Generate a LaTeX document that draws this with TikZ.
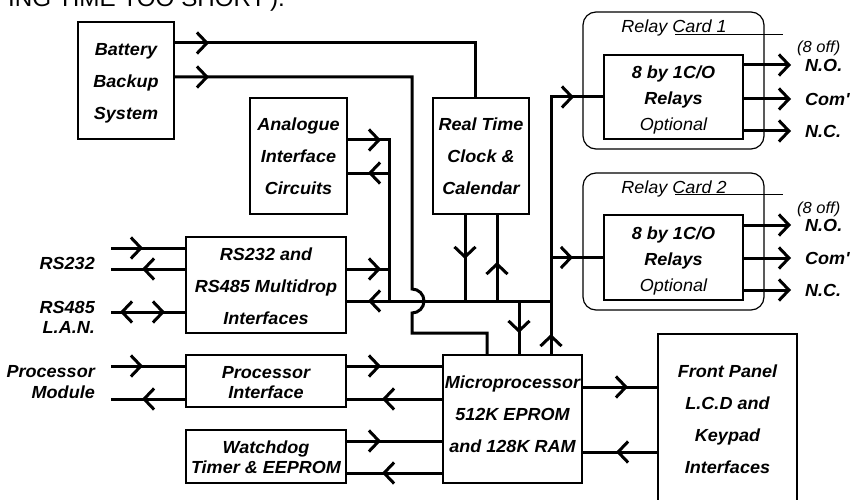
\documentclass[tikz,border=0pt]{standalone}
\usepackage{fontspec}
\setmainfont{Liberation Sans}[FakeStretch=1.03]
\usetikzlibrary{arrows.meta,decorations.markings}

\tikzset{
  >={Straight Barb[length=10pt,width=21pt]},
  % text height counts every line above the last baseline
  blk/.style={draw, line width=2pt, inner sep=0pt, align=center,
    text height=76.5pt, text depth=0pt,
    font=\bfseries\itshape\fontsize{17.5}{32}\selectfont},
  blktight/.style={blk, text height=32.5pt,
    font=\bfseries\itshape\fontsize{17.5}{20}\selectfont},
  blkrelay/.style={blk, text height=67pt,
    font=\bfseries\itshape\fontsize{17.5}{26}\selectfont},
  card/.style={draw, line width=1.2pt, rounded corners=13pt, inner sep=0pt},
  wire/.style={line width=3pt},
  fwd/.style={postaction={decorate,decoration={markings,
    mark=at position #1 with {\arrow{>}}}}},
  bwd/.style={postaction={decorate,decoration={markings,
    mark=at position #1 with {\arrowreversed{>}}}}},
  sidelbl/.style={inner sep=0pt, anchor=east, align=right,
    font=\bfseries\itshape\fontsize{17.5}{20.5}\selectfont},
  outlbl/.style={inner sep=0pt, anchor=west,
    font=\bfseries\itshape\fontsize{17.5}{18}\selectfont},
  notelbl/.style={inner sep=0pt, font=\itshape\fontsize{17.5}{18}\selectfont},
  smallnote/.style={inner sep=0pt, font=\itshape\fontsize{16}{18}\selectfont},
  uline/.style={line width=0.9pt},
}

\begin{document}
\begin{tikzpicture}[x=1pt,y=-1pt]
\useasboundingbox (0,0) rectangle (851,500);

% tail of the caption line above
\node[anchor=base east, inner sep=0pt, font=\fontsize{23.5}{26}\selectfont]
  (cap) at (285,7) {ING TIME TOO SHORT\textquotesingle).};

% ---- blocks ----
\node[blk, minimum width=96, minimum height=117] (bat) at (126,81)
  {Battery\\Backup\\System};
\node[blk, minimum width=97, minimum height=116] (ana) at (298.5,156)
  {Analogue\\Interface\\Circuits};
\node[blk, minimum width=96, minimum height=116] (rtc) at (481,156)
  {Real Time\\Clock \&\\Calendar};
\node[blk, text height=78.5pt, minimum width=160, minimum height=96] (rs) at (266,285)
  {RS232 and\\RS485 Multidrop\\Interfaces};
\node[blktight, text height=34.5pt, minimum width=160, minimum height=52] (pi) at (266,381)
  {Processor\\Interface};
\node[blktight, text height=33.5pt, minimum width=160, minimum height=53] (wd) at (266,456.5)
  {Watchdog\\Timer \& EEPROM};
\node[blk, text height=67.5pt, minimum width=139, minimum height=128] (mic) at (512.5,419)
  {Microprocessor\\512K EPROM\\and 128K RAM};
\node[blk, text height=103.5pt, minimum width=139, minimum height=176] (fp) at (727.5,422)
  {Front Panel\\L.C.D and\\Keypad\\Interfaces};

% ---- relay cards ----
\node[card, minimum width=181, minimum height=137] (c1) at (673.5,80.5) {};
\node[card, minimum width=181, minimum height=137] (c2) at (673.5,241.5) {};
\node[blkrelay, minimum width=139, minimum height=84] (r1) at (673.5,97)
  {8 by 1C/O\\Relays\\{\mdseries Optional}};
\node[blkrelay, minimum width=139, minimum height=85] (r2) at (673.5,257.5)
  {8 by 1C/O\\Relays\\{\mdseries Optional}};
\node[notelbl] (t1) at (674,28) {Relay Card 1};
\node[notelbl] (t2) at (674,189) {Relay Card 2};
\draw[uline] (675,34) -- (783,34);
\draw[uline] (675,194) -- (783,194);

% relay outputs
\node[smallnote, anchor=west] (n1) at (797,48) {(8 off)};
\node[smallnote, anchor=west] (n2) at (797,209) {(8 off)};
\node[outlbl] (no1) at (805,65) {N.O.};
\node[outlbl] (co1) at (805,99) {Com\textquotesingle};
\node[outlbl] (nc1) at (805,131) {N.C.};
\node[outlbl] (no2) at (805,225) {N.O.};
\node[outlbl] (co2) at (805,258) {Com\textquotesingle};
\node[outlbl] (nc2) at (805,290) {N.C.};
\draw[wire,->] (r1.east |- no1) -- ([xshift=-14pt]no1.west);
\draw[wire,->] (r1.east |- co1) -- ([xshift=-14pt]co1.west);
\draw[wire,->] (r1.east |- nc1) -- ([xshift=-14pt]nc1.west);
\draw[wire,->] (r2.east |- no2) -- ([xshift=-14pt]no2.west);
\draw[wire,->] (r2.east |- co2) -- ([xshift=-14pt]co2.west);
\draw[wire,->] (r2.east |- nc2) -- ([xshift=-14pt]nc2.west);

% ---- external labels on the left ----
\node[sidelbl] (lrs232) at (95,263) {RS232};
\node[sidelbl] (lrs485) at (95,317.5) {RS485\\L.A.N.};
\node[sidelbl] (lproc) at (95,382) {Processor\\Module};

% ---- junction points ----
\coordinate (b1) at (475,43);
\coordinate (b2) at (412,77);
\coordinate (hop) at (412,301);
\coordinate (b3) at (412,333);
\coordinate (b4) at (487,333);
\coordinate (busL) at (389,301);
\coordinate (busR) at (551,301);
\coordinate (a1) at (389,140);
\coordinate (a2) at (389,173);
\coordinate (s1) at (389,269);
\coordinate (l1) at (111,248);
\coordinate (l2) at (111,269);
\coordinate (l3) at (111,312);
\coordinate (l4) at (111,366);
\coordinate (l5) at (111,399);
\coordinate (k1) at (465,301);
\coordinate (k2) at (497,301);
\coordinate (m1) at (519,301);
\coordinate (w1) at (346,441);
\coordinate (w2) at (346,473);
\coordinate (f1) at (600,387);
\coordinate (f2) at (600,452);

% ---- battery feeds ----
\draw[wire,fwd=34pt] (bat.east |- b1) -- (b1) -- (rtc.north -| b1);
\draw[wire,fwd=34pt] (bat.east |- b2) -- (b2) -- ([yshift=12pt]hop)
  arc[start angle=-90, end angle=90, radius=12] -- (b3) -- (b4)
  -- (mic.north -| b4);

% ---- internal bus ----
\draw[wire,fwd=183pt] (busR) -- (rs.east |- busR);
\draw[wire,fwd=33pt] (ana.east |- a1) -- (a1) -- (busL);
\draw[wire,fwd=21pt] (a2) -- (ana.east |- a2);
\draw[wire,fwd=34pt] (rs.east |- s1) -- (s1);
\draw[wire,fwd=44pt] (rtc.south -| k1) -- (k1);
\draw[wire,fwd=39pt] (k2) -- (rtc.south -| k2);
\draw[wire,fwd=32pt] (m1) -- (mic.north -| m1);
\draw[wire,fwd=20pt,fwd=280pt] (mic.north -| busR) |- (r1.west);
\draw[wire,fwd=22pt] (busR |- r2.west) -- (r2.west);

% ---- serial links ----
\draw[wire,fwd=32pt] (l1) -- (rs.west |- l1);
\draw[wire,fwd=43pt] (rs.west |- l2) -- (l2);
\draw[wire,fwd=54pt,bwd=9pt] (l3) -- (rs.west |- l3);

% ---- processor interface and watchdog ----
\draw[wire,fwd=32pt] (l4) -- (pi.west |- l4);
\draw[wire,fwd=43pt] (pi.west |- l5) -- (l5);
\draw[wire,fwd=34pt] (pi.east |- l4) -- (mic.west |- l4);
\draw[wire,fwd=60pt] (mic.west |- l5) -- (pi.east |- l5);
\draw[wire,fwd=34pt] (wd.east |- w1) -- (mic.west |- w1);
\draw[wire,fwd=60pt] (mic.west |- w2) -- (wd.east |- w2);

% ---- front panel ----
\draw[wire,fwd=45pt] (mic.east |- f1) -- (fp.west |- f1);
\draw[wire,fwd=41pt] (fp.west |- f2) -- (mic.east |- f2);
\end{tikzpicture}
\end{document}
